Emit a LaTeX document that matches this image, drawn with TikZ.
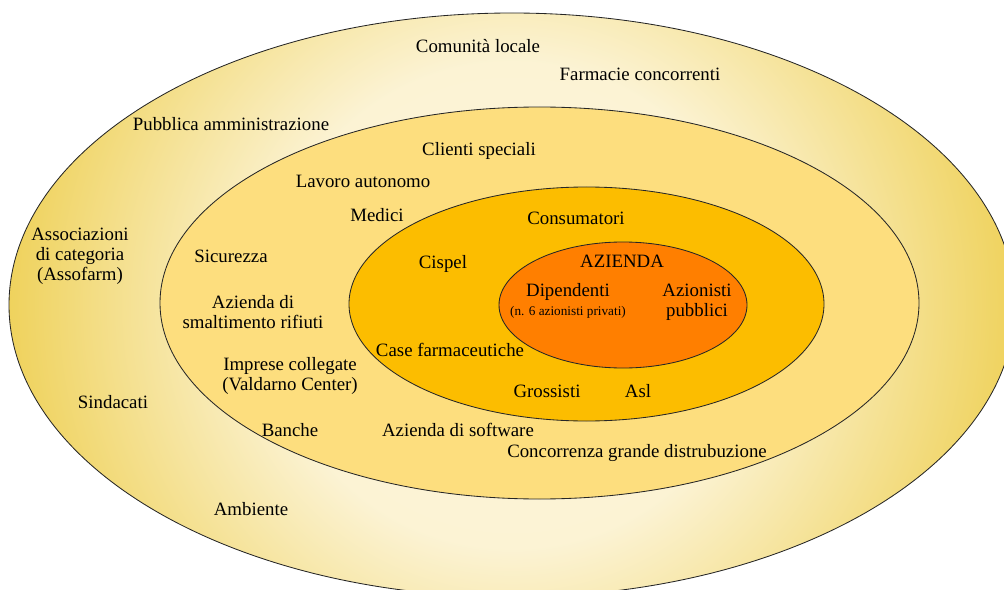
\documentclass[tikz,border=0pt]{standalone}
\usepackage{fontspec}
\setmainfont{Liberation Serif}
\usepackage{tikz}
\definecolor{ringgold}{RGB}{239,210,92}
\definecolor{ringcream}{RGB}{252,244,216}
\definecolor{ringmid}{RGB}{253,222,126}
\definecolor{ringinner}{RGB}{252,189,0}
\definecolor{ringcore}{RGB}{255,127,0}
\pgfdeclareradialshading{outerglow}{\pgfpoint{0bp}{0bp}}{%
  color(0bp)=(ringcream); color(12bp)=(ringcream!97!ringgold);
  color(25bp)=(ringgold); color(50bp)=(ringgold)}

\begin{document}
\begin{tikzpicture}[x=0.025cm,y=-0.025cm,
  font=\fontsize{13.4}{14.2}\selectfont,
  lbl/.style={align=center,inner sep=0pt},
  ring/.style={draw=black!85,line width=0.6pt}]

  \useasboundingbox (0,0) rectangle (1004,590);

  %,  Outer ring (shaded), 
  \begin{scope}
    \clip (512,305) ellipse [x radius=503,y radius=292];
    \shade[shading=outerglow] (512,305) circle [radius=505];
  \end{scope}
  \draw[ring] (512,305) ellipse [x radius=503,y radius=292];

  %,  Middle, inner and core rings, 
  \filldraw[ring,fill=ringmid]   (539.5,303) ellipse [x radius=379.5,y radius=196];
  \filldraw[ring,fill=ringinner] (586.5,304) ellipse [x radius=237.5,y radius=117];
  \filldraw[ring,fill=ringcore]  (623,305)   ellipse [x radius=124,y radius=63];

  %,  Stakeholder labels, 
  \foreach \nm/\px/\py/\txt in {
    comunita/478/46/{Comunità locale},
    farmacie/640/74/{Farmacie concorrenti},
    pa/231/124/{Pubblica amministrazione},
    clienti/479/151/{Clienti speciali},
    lavoro/363/181/{Lavoro autonomo},
    medici/377/215/{Medici},
    consumatori/576/218/{Consumatori},
    associazioni/80/256/{Associazioni\\di categoria\\(Assofarm)},
    sicurezza/231/256/{Sicurezza},
    cispel/443/264/{Cispel},
    azienda/622/261/{AZIENDA},
    dipendenti/568/292/{Dipendenti},
    azionisti/697/302/{Azionisti\\pubblici},
    smaltimento/253/312/{Azienda di\\smaltimento rifiuti},
    case/450/350/{Case farmaceutiche},
    imprese/290/376/{Imprese collegate\\(Valdarno Center)},
    grossisti/547/391/{Grossisti},
    asl/638/391/{Asl},
    sindacati/113/402/{Sindacati},
    banche/290/430/{Banche},
    software/458/430/{Azienda di software},
    concorrenza/637/453/{Concorrenza grande distrubuzione},
    ambiente/251/509/{Ambiente}%
  }
  {
    \node[lbl] (\nm) at (\px,\py) {\txt};
  }
  \node[lbl,font=\fontsize{9.4}{10}\selectfont] (privati) at (568,312)
    {(n. 6 azionisti privati)};

\end{tikzpicture}
\end{document}
